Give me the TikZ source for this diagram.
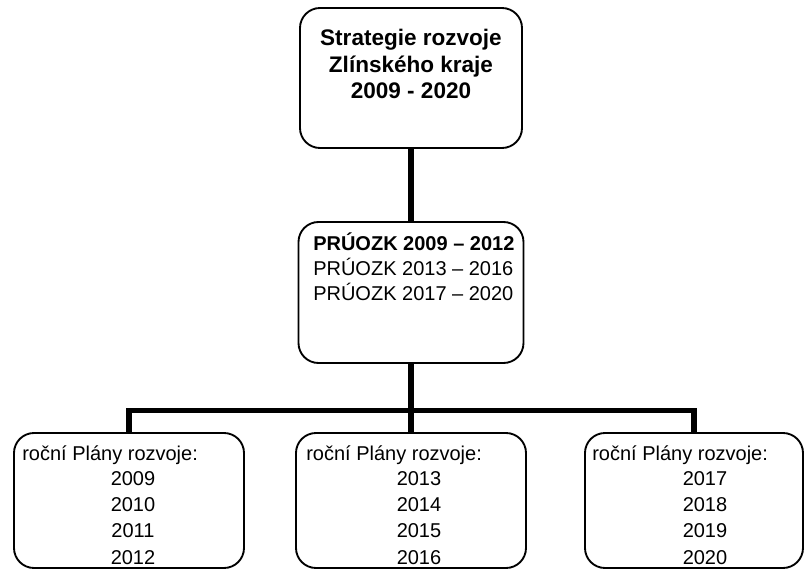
\documentclass[tikz,border=0pt]{standalone}
\usepackage{fontspec}
\setmainfont{Liberation Sans}
\usetikzlibrary{positioning}

\begin{document}
\begin{tikzpicture}[x=0.75pt,y=-0.75pt,
    box/.style={draw,line width=1.4pt,rounded corners=15pt,inner sep=0pt},
    title/.style={font=\fontsize{16.9}{19.9}\selectfont\bfseries,align=center,inner sep=0pt},
    entry/.style={font=\fontsize{15}{18.75}\selectfont,align=left,inner sep=0pt},
    years/.style={font=\fontsize{15}{19.7}\selectfont,align=center,inner sep=0pt},
    link/.style={line width=4.2pt}]
    \useasboundingbox (0,0) rectangle (804,571);
    \node[box,minimum width=166.5pt,minimum height=105pt] (strategy) at (411,78) {};
    \node[box,minimum width=168.75pt,minimum height=105.75pt] (survey) at (411,292.5) {};
    \node[box,minimum width=172.5pt,minimum height=101.25pt] (planA) at (129,500.5) {};
    \node[box,minimum width=172.5pt,minimum height=101.25pt] (planB) at (411,500.5) {};
    \node[box,minimum width=163.5pt,minimum height=101.25pt] (planC) at (694,500.5) {};
    \node[title,anchor=north] (strategyText) at (411,29) {Strategie rozvoje\\Zlínského kraje\\2009 - 2020};
    \node[entry,anchor=north west] (surveyText) at (313,233)
      {\textbf{PRÚOZK 2009 – 2012}\\PRÚOZK 2013 – 2016\\PRÚOZK 2017 – 2020};
    \node[entry,anchor=north west] (planAHead) at (22,446) {roční Plány rozvoje:};
    \node[entry,anchor=north west] (planBHead) at (306,446) {roční Plány rozvoje:};
    \node[entry,anchor=north west] (planCHead) at (592,446) {roční Plány rozvoje:};
    \node[years,anchor=north] (planAYears) at (133,471) {2009\\2010\\2011\\2012};
    \node[years,anchor=north] (planBYears) at (419,471) {2013\\2014\\2015\\2016};
    \node[years,anchor=north] (planCYears) at (705,471) {2017\\2018\\2019\\2020};
    \coordinate (bus) at (411,410.5);
    \draw[link] (strategy.south) -- (survey.north);
    \draw[link] (survey.south) -- (planB.north);
    \draw[link] (planA.north) |- (bus) -| (planC.north);
  \end{tikzpicture}
\end{document}
